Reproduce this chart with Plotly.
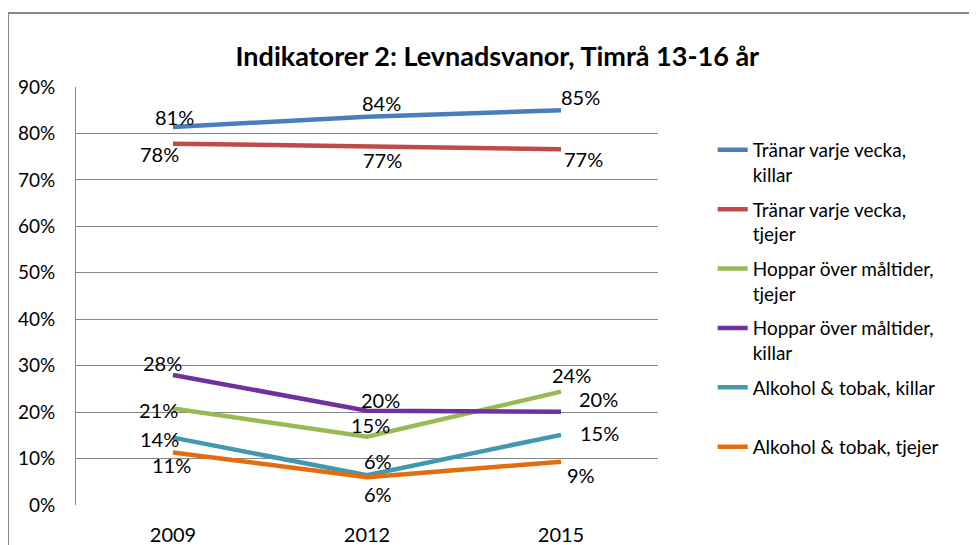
import plotly.graph_objects as go

years = ["2009", "2012", "2015"]
series_names = [
    "Tränar varje vecka,<br>killar",
    "Tränar varje vecka,<br>tjejer",
    "Hoppar över måltider,<br>tjejer",
    "Hoppar över måltider,<br>killar",
    "Alkohol & tobak, killar<br> ",
    "Alkohol & tobak, tjejer",
]
tranar_killar = [0.814, 0.836, 0.850]
tranar_tjejer = [0.778, 0.772, 0.766]
hoppar_tjejer = [0.208, 0.147, 0.244]
hoppar_killar = [0.280, 0.203, 0.201]
alkohol_killar = [0.145, 0.064, 0.151]
alkohol_tjejer = [0.113, 0.060, 0.093]
series_values = [tranar_killar, tranar_tjejer, hoppar_tjejer, hoppar_killar, alkohol_killar, alkohol_tjejer]

colors = ["#4A7EBB", "#BE4B48", "#98B954", "#7030A0", "#4198AF", "#E46C0A"]
# label offsets in pixels (dx, dy) relative to each point
label_offsets = [
    [(1, 10), (14, 14), (19, 13)],
    [(-14, -10), (15, -14), (22, -10)],
    [(-15, -2), (3, 12), (10, 17)],
    [(-11, 12), (13, 11), (37, 13)],
    [(-14, -1), (11, 14), (38, 2)],
    [(-2, -12), (11, -17), (20, -13)],
]

FONT = "Lato, Calibri, sans-serif"
fig = go.Figure()
annots = []
for name, vals, col, offs in zip(series_names, series_values, colors, label_offsets):
    fig.add_trace(go.Scatter(
        x=years, y=vals, name=name, mode="lines",
        line=dict(color=col, width=4.5),
        legendgroup=name,
    ))
    for i, (v, (dx, dy)) in enumerate(zip(vals, offs)):
        annots.append(go.layout.Annotation(
            x=i, y=v, xref="x", yref="y", text=str(round(v * 100)) + "%",
            showarrow=True, arrowcolor="rgba(0,0,0,0)", arrowwidth=0.1, arrowhead=0,
            ax=dx, ay=-dy,
            font=dict(family=FONT, size=20, color="#000000"),
        ))

fig.update_layout(
    width=969, height=537,
    margin=dict(l=68, r=319, t=79, b=40),
    paper_bgcolor="white", plot_bgcolor="white",
    font=dict(family=FONT, size=20, color="#000000"),
    title=dict(text="<b>Indikatorer 2: Levnadsvanor, Timrå 13-16 år</b>",
               x=0.505, xanchor="center", y=0.909, yanchor="middle",
               font=dict(family=FONT, size=27, color="#000000")),
    showlegend=True,
    legend=dict(x=1.094, xanchor="left", y=0.895, yanchor="top",
                valign="top", tracegroupgap=7,
                font=dict(family=FONT, size=19, color="#000000"),
                bgcolor="rgba(0,0,0,0)"),
    annotations=annots,
    xaxis=dict(type="category", range=[-0.5, 2.5], showgrid=False, showline=False,
               zeroline=False, ticks="", ticklabelstandoff=16, automargin=False,
               tickfont=dict(family=FONT, size=20)),
    yaxis=dict(range=[0, 0.9], dtick=0.1, tickformat=".0%", showgrid=True,
               gridcolor="#868686", gridwidth=1, showline=True, linecolor="#868686",
               linewidth=1, zeroline=False, ticks="", ticklabelstandoff=16, automargin=False,
               tickfont=dict(family=FONT, size=19)),
    shapes=[dict(type="rect", xref="paper", yref="paper",
                 x0=-0.1168, x1=1.6, y0=-0.3, y1=1.177,
                 line=dict(color="#868686", width=2), fillcolor="rgba(0,0,0,0)", layer="below")],
)

fig.write_html("out.html")
